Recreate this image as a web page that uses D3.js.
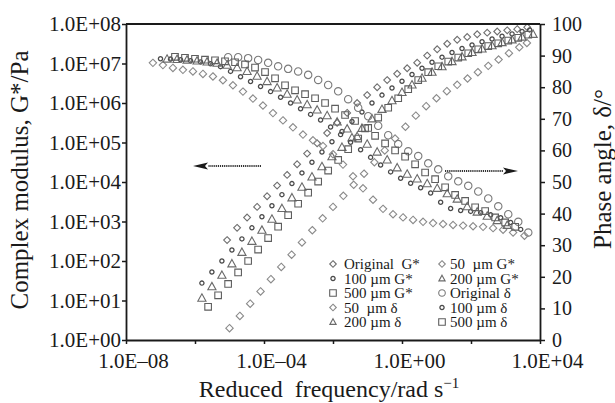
<!DOCTYPE html>
<html>
<head>
<meta charset="utf-8">
<script src="https://cdn.jsdelivr.net/npm/d3@7/dist/d3.min.js"></script>
<style>
  body { margin: 0; background: #fff; }
  svg { display: block; }
  text { font-family: "Liberation Serif", "Times New Roman", serif; fill: #1a1a1a; }
</style>
</head>
<body>
<svg id="chart" width="615" height="403"></svg>
<script>
// Frequencies are stored as log10(rad/s); G* as log10(Pa); phase angle in degrees.

// Complex modulus G*
const origGFreq = [-5.07,-4.78,-4.49,-4.20,-3.91,-3.62,-3.33,-3.04,-2.75,-2.46,-2.17,-1.88,-1.59,-1.30,-1.01,-0.72,-0.43,-0.14,0.15,0.44,0.73,1.02,1.31,1.60,1.89,2.18,2.47,2.76,3.05,3.34,3.63];
const origGLog  = [2.53,2.84,3.10,3.37,3.64,3.91,4.18,4.45,4.72,4.98,5.24,5.50,5.75,6.00,6.20,6.40,6.58,6.74,6.88,7.02,7.20,7.36,7.50,7.60,7.67,7.74,7.78,7.81,7.84,7.87,7.92];

const g50Freq = [-5.0,-4.7,-4.4,-4.1,-3.8,-3.5,-3.2,-2.9,-2.6,-2.3,-2.0,-1.7,-1.4,-1.1,-0.8,-0.5,-0.2,0.1,0.4,0.7,1.0,1.3,1.6,1.9,2.2,2.5,2.8,3.1,3.4,3.62];
const g50Log  = [0.30,0.61,0.92,1.23,1.54,1.85,2.16,2.47,2.78,3.08,3.37,3.65,3.93,4.21,4.50,4.80,5.10,5.40,5.68,5.92,6.12,6.30,6.46,6.62,6.78,6.94,7.10,7.26,7.41,7.52];

const g100Freq = [-5.8,-5.51,-5.22,-4.93,-4.64,-4.35,-4.06,-3.77,-3.48,-3.19,-2.9,-2.61,-2.32,-2.03,-1.74,-1.45,-1.16,-0.87,-0.58,-0.29,0.0,0.29,0.58,0.87,1.16,1.45,1.74,2.03,2.32,2.61,2.9,3.19,3.48,3.7];
const g100Log  = [1.44,1.72,2.00,2.28,2.56,2.84,3.12,3.40,3.68,3.96,4.23,4.50,4.76,5.02,5.28,5.53,5.77,6.00,6.20,6.38,6.55,6.72,6.88,7.03,7.16,7.28,7.38,7.47,7.55,7.62,7.69,7.75,7.81,7.85];

const g200Freq = [-5.8,-5.51,-5.22,-4.93,-4.64,-4.35,-4.06,-3.77,-3.48,-3.19,-2.9,-2.61,-2.32,-2.03,-1.74,-1.45,-1.16,-0.87,-0.58,-0.29,0.0,0.29,0.58,0.87,1.16,1.45,1.74,2.03,2.32,2.61,2.9,3.19,3.48,3.8];
const g200Log  = [1.06,1.35,1.64,1.93,2.22,2.50,2.78,3.06,3.33,3.60,3.87,4.13,4.39,4.64,4.88,5.12,5.36,5.60,5.84,6.06,6.27,6.46,6.63,6.78,6.92,7.05,7.17,7.28,7.37,7.45,7.53,7.60,7.67,7.74];

const g500Freq = [-5.62,-5.33,-5.04,-4.75,-4.46,-4.17,-3.88,-3.59,-3.3,-3.01,-2.72,-2.43,-2.14,-1.85,-1.56,-1.27,-0.98,-0.69,-0.4,-0.11,0.18,0.47,0.76,1.05,1.34,1.63,1.92,2.21,2.5,2.79,3.08,3.37,3.66];
const g500Log  = [0.84,1.13,1.42,1.71,2.00,2.29,2.58,2.87,3.16,3.45,3.73,4.01,4.29,4.56,4.83,5.10,5.37,5.63,5.88,6.12,6.35,6.58,6.78,6.93,7.05,7.15,7.26,7.36,7.44,7.51,7.58,7.65,7.73];

// Phase angle δ
const dOrigFreq = [-5.04,-4.75,-4.46,-4.17,-3.88,-3.59,-3.3,-3.01,-2.72,-2.43,-2.14,-1.85,-1.56,-1.27,-0.98,-0.69,-0.4,-0.11,0.18,0.47,0.76,1.05,1.34,1.63,1.92,2.21,2.5,2.79,3.08,3.37,3.66];
const dOrigDeg  = [89.5,89.5,89.2,88.6,87.7,86.6,85.8,85.0,83.9,82.3,80.7,78.7,76.2,73.5,70.8,67.8,64.8,62.0,59.7,58.2,55.9,54.0,51.8,50.2,48.8,47.0,44.8,42.3,39.8,37.4,34.0];

const d50Freq = [-7.22,-6.93,-6.64,-6.35,-6.06,-5.77,-5.48,-5.19,-4.9,-4.61,-4.32,-4.03,-3.74,-3.45,-3.16,-2.87,-2.58,-2.29,-2.0,-1.71,-1.42,-1.13,-0.84,-0.55,-0.26,0.03,0.32,0.61,0.9,1.19,1.48,1.77,2.06,2.35,2.64,2.93,3.22,3.55];
const d50Deg  = [87.7,87.0,86.1,85.5,85.0,84.2,83.4,82.2,80.6,78.6,76.4,74.2,71.8,69.5,67.3,65.0,63.2,61.4,58.8,55.5,51.8,48.0,44.4,41.5,39.8,38.8,38.0,37.4,37.0,36.7,36.4,36.2,36.0,35.8,35.4,34.9,34.0,33.0];

const d100Freq = [-7.0,-6.71,-6.42,-6.13,-5.84,-5.55,-5.26,-4.97,-4.68,-4.39,-4.1,-3.81,-3.52,-3.23,-2.94,-2.65,-2.36,-2.07,-1.78,-1.49,-1.2,-0.91,-0.62,-0.33,-0.04,0.25,0.54,0.83,1.12,1.41,1.7,1.99,2.28,2.57,2.86,3.15,3.44];
const d100Deg  = [89.0,88.9,88.7,88.4,88.0,87.4,86.5,85.0,83.3,81.8,80.2,78.6,76.8,75.0,73.2,71.4,69.6,67.4,65.0,62.6,60.2,57.8,55.4,53.2,51.2,49.6,48.2,46.5,43.6,41.6,41.0,40.7,40.3,39.6,38.7,37.2,35.0];

const d200Freq = [-6.81,-6.52,-6.23,-5.94,-5.65,-5.36,-5.07,-4.78,-4.49,-4.2,-3.91,-3.62,-3.33,-3.04,-2.75,-2.46,-2.17,-1.88,-1.59,-1.3,-1.01,-0.72,-0.43,-0.14,0.15,0.44,0.73,1.02,1.31,1.6,1.89,2.18,2.47,2.76,3.05];
const d200Deg  = [88.9,88.8,88.6,88.3,88.0,87.6,87.0,86.2,85.0,83.5,81.8,79.8,77.8,76.0,74.5,72.8,71.0,69.0,66.8,64.4,62.0,59.5,57.0,54.5,52.5,51.0,49.5,48.0,46.3,44.6,42.2,40.5,39.2,37.8,36.3];

const d500Freq = [-6.58,-6.29,-6.0,-5.71,-5.42,-5.13,-4.84,-4.55,-4.26,-3.97,-3.68,-3.39,-3.1,-2.81,-2.52,-2.23,-1.94,-1.65,-1.36,-1.07,-0.78,-0.49,-0.2,0.09,0.38,0.67,0.96,1.25,1.54,1.83,2.12,2.41,2.7,2.99,3.28];
const d500Deg  = [89.6,89.3,89.0,88.7,88.5,88.2,87.9,87.2,86.2,84.8,82.8,80.6,79.0,77.8,76.5,75.0,73.2,71.2,69.3,67.0,64.6,62.2,60.0,58.0,55.6,53.0,50.9,48.3,45.9,44.0,42.0,40.8,38.8,37.2,35.8];

// Axis ticks
const gTickExps = [0,1,2,3,4,5,6,7,8];
const xTickExps = [-8,-6,-4,-2,0,2,4];
const xLabelExps = [-8,-4,0,4];
const deltaTicks = [0,10,20,30,40,50,60,70,80,90,100];

// Marker styles
const styles = {
  diamondLight: { shape: "diamond", size: 3.7, stroke: "#8a8a8a", width: 1.1 },
  diamondDark:  { shape: "diamond", size: 3.4, stroke: "#6e6e6e", width: 1.1 },
  dotSmall:     { shape: "circle",  size: 2.1, stroke: "#4a4a4a", width: 1.3 },
  triangle:     { shape: "triangle",size: 4.3, stroke: "#6a6a6a", width: 1.1 },
  square:       { shape: "square",  size: 3.3, stroke: "#5e5e5e", width: 1.1 },
  circleLarge:  { shape: "circle",  size: 3.7, stroke: "#7a7a7a", width: 1.1 }
};

const series = [
  { label: "Original  G*",   axis: "G", f: origGFreq, v: origGLog, style: styles.diamondDark },
  { label: "50  \u00b5m G*", axis: "G", f: g50Freq,   v: g50Log,   style: styles.diamondLight },
  { label: "100 \u00b5m G*", axis: "G", f: g100Freq,  v: g100Log,  style: styles.dotSmall },
  { label: "200 \u00b5m G*", axis: "G", f: g200Freq,  v: g200Log,  style: styles.triangle },
  { label: "500 \u00b5m G*", axis: "G", f: g500Freq,  v: g500Log,  style: styles.square },
  { label: "Original \u03b4",axis: "D", f: dOrigFreq, v: dOrigDeg, style: styles.circleLarge },
  { label: "50  \u00b5m \u03b4", axis: "D", f: d50Freq,  v: d50Deg,  style: styles.diamondLight },
  { label: "100 \u00b5m \u03b4", axis: "D", f: d100Freq, v: d100Deg, style: styles.dotSmall },
  { label: "200 \u00b5m \u03b4", axis: "D", f: d200Freq, v: d200Deg, style: styles.triangle },
  { label: "500 \u00b5m \u03b4", axis: "D", f: d500Freq, v: d500Deg, style: styles.square }
];

// Legend arrangement, two columns
const legendCol1 = ["Original  G*", "100 \u00b5m G*", "500 \u00b5m G*", "50  \u00b5m \u03b4", "200 \u00b5m \u03b4"];
const legendCol2 = ["50  \u00b5m G*", "200 \u00b5m G*", "Original \u03b4", "100 \u00b5m \u03b4", "500 \u00b5m \u03b4"];

const svg = d3.select("#chart");
const plotL = 126, plotR = 540, plotT = 24, plotB = 340;

const x  = d3.scaleLog().domain([1e-8, 1e4]).range([plotL, plotR]);
const yG = d3.scaleLog().domain([1, 1e8]).range([plotB, plotT]);
const yD = d3.scaleLinear().domain([0, 100]).range([plotB, plotT]);

function sciLabel(e) {
  const sign = e < 0 ? "\u2013" : "+";
  return "1.0E" + sign + String(Math.abs(e)).padStart(2, "0");
}

function shapePath(shape, s) {
  switch (shape) {
    case "diamond":  return `M0,${-s}L${s},0L0,${s}L${-s},0Z`;
    case "square":   return `M${-s},${-s}H${s}V${s}H${-s}Z`;
    case "triangle": return `M0,${-s}L${s * 0.95},${s * 0.72}L${-s * 0.95},${s * 0.72}Z`;
    default:         return `M${s},0A${s},${s} 0 1,1 ${-s},0A${s},${s} 0 1,1 ${s},0Z`;
  }
}

// Data markers
const plot = svg.append("g");
series.forEach(s => {
  const pts = s.f.map((fe, i) => ({ f: Math.pow(10, fe), v: s.axis === "G" ? Math.pow(10, s.v[i]) : s.v[i] }));
  const yScale = s.axis === "G" ? yG : yD;
  plot.append("g").selectAll("path").data(pts).join("path")
    .attr("d", shapePath(s.style.shape, s.style.size))
    .attr("transform", d => `translate(${x(d.f)},${yScale(d.v)})`)
    .attr("fill", "none")
    .attr("stroke", s.style.stroke)
    .attr("stroke-width", s.style.width);
});

// Axes
const axisColor = "#1a1a1a";
const gAxisL = svg.append("g").attr("transform", `translate(${plotL},0)`)
  .call(d3.axisLeft(yG).tickValues(gTickExps.map(e => Math.pow(10, e)))
    .tickFormat(d => sciLabel(Math.round(Math.log10(d)))).tickSize(4).tickSizeOuter(0).tickPadding(1));
const gAxisR = svg.append("g").attr("transform", `translate(${plotR},0)`)
  .call(d3.axisRight(yD).tickValues(deltaTicks).tickSize(5).tickSizeOuter(0).tickPadding(7));
const gAxisB = svg.append("g").attr("transform", `translate(0,${plotB})`)
  .call(d3.axisBottom(x).tickValues(xTickExps.map(e => Math.pow(10, e)))
    .tickFormat(d => { const e = Math.round(Math.log10(d)); return xLabelExps.includes(e) ? sciLabel(e) : ""; })
    .tickSize(4).tickSizeOuter(0).tickPadding(9));

[gAxisL, gAxisR, gAxisB].forEach(g => {
  g.select(".domain").attr("stroke", axisColor).attr("stroke-width", 1.8);
  g.selectAll(".tick line").attr("stroke", axisColor).attr("stroke-width", 1.5);
  g.selectAll(".tick text").attr("font-size", 20).attr("fill", "#1a1a1a")
    .style("font-family", "'Liberation Serif', 'Times New Roman', serif");
});
gAxisL.selectAll(".tick text").attr("font-size", 21);
gAxisB.selectAll(".tick text").attr("font-size", 21).attr("dx", 7);

svg.append("line").attr("x1", plotL).attr("x2", plotR).attr("y1", plotT).attr("y2", plotT)
  .attr("stroke", axisColor).attr("stroke-width", 1.8);

// Axis titles
svg.append("text").attr("transform", `translate(28,180) rotate(-90)`)
  .attr("text-anchor", "middle").attr("font-size", 25).text("Complex modulus, G*/Pa");
svg.append("text").attr("transform", `translate(611,169) rotate(-90)`)
  .attr("text-anchor", "middle").attr("font-size", 25).text("Phase angle, \u03b4/\u00b0");
const xt = svg.append("text").attr("x", 329).attr("y", 397).attr("text-anchor", "middle")
  .attr("font-size", 24).style("white-space", "pre");
xt.append("tspan").text("Reduced  frequency/rad s");
xt.append("tspan").attr("dy", -9).attr("font-size", 15).text("\u22121");

// Direction arrows
function arrow(x1, x2, y) {
  const dir = Math.sign(x2 - x1);
  const headLen = 15, headW = 3.5;
  svg.append("line").attr("x1", x1).attr("x2", x2 - dir * headLen).attr("y1", y).attr("y2", y)
    .attr("stroke", "#333").attr("stroke-width", 2).attr("stroke-dasharray", "1.2,0.9");
  svg.append("path")
    .attr("d", `M${x2},${y}L${x2 - dir * headLen},${y - headW}L${x2 - dir * headLen * 0.8},${y}L${x2 - dir * headLen},${y + headW}Z`)
    .attr("fill", "#1a1a1a");
}
arrow(261, 193, 166);
arrow(445, 518, 171);

// Legend
const byLabel = new Map(series.map(s => [s.label, s]));
const legendRows = [264, 278.5, 293, 307.5, 322];
[[legendCol1, 333, 344], [legendCol2, 442, 450]].forEach(([col, mx, tx]) => {
  col.forEach((lab, i) => {
    const s = byLabel.get(lab);
    const y = legendRows[i];
    svg.append("path").attr("d", shapePath(s.style.shape, Math.min(s.style.size, 3.3)))
      .attr("transform", `translate(${mx},${y})`)
      .attr("fill", "none").attr("stroke", s.style.stroke).attr("stroke-width", s.style.width);
    svg.append("text").attr("x", tx).attr("y", y + 5).attr("font-size", 15)
      .style("white-space", "pre").text(lab);
  });
});
</script>
</body>
</html>
